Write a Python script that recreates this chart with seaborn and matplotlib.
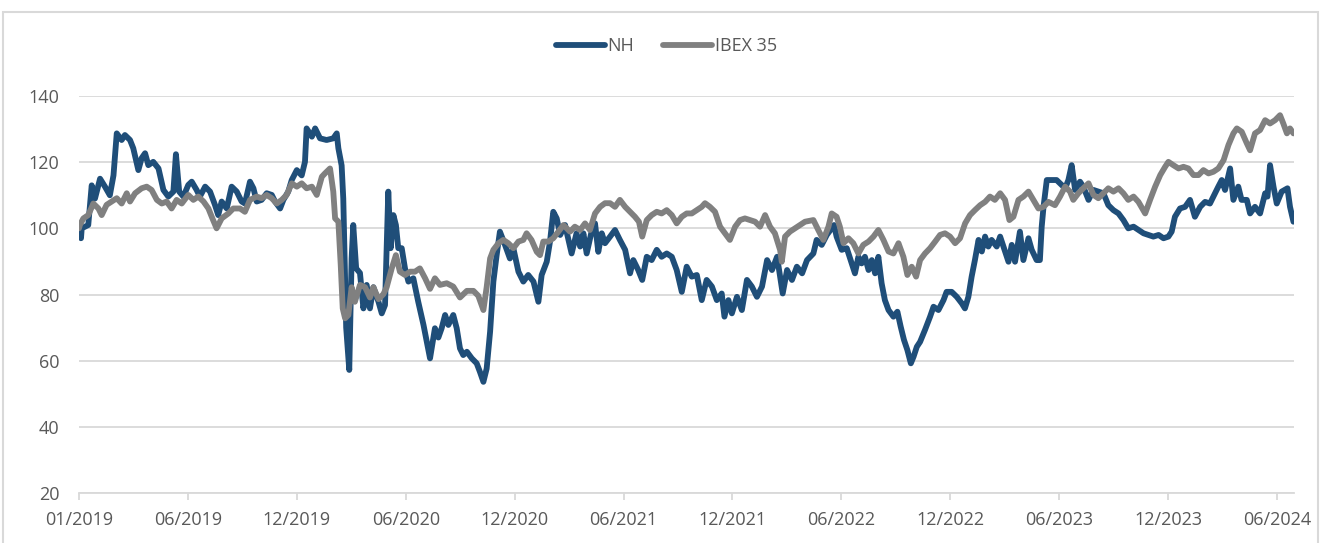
import numpy as np
import pandas as pd
import matplotlib
matplotlib.use("Agg")
import matplotlib.pyplot as plt
import seaborn as sns
from matplotlib.patches import Rectangle

# ---- data (x = months since 01/2019, y = index base 100) ----
nh_month = [0, 0.11, 0.15, 0.51, 0.70, 0.88, 1.16, 1.43, 1.70, 1.90, 2.08, 2.35, 2.53, 2.81, 2.99, 3.27, 3.45, 3.64, 3.82, 4.09,
            4.38, 4.65, 4.92, 5.20, 5.34, 5.52, 5.75, 6.02, 6.21, 6.48, 6.66, 6.95, 7.22, 7.49, 7.67, 7.86, 8.14, 8.41, 8.69, 8.96,
            9.14, 9.42, 9.61, 9.79, 10.06, 10.34, 10.62, 10.80, 11.08, 11.26, 11.53, 11.72, 12.00, 12.27, 12.45, 12.54, 12.83, 13.01, 13.28,
            13.64, 14.01, 14.20, 14.29, 14.47, 14.56, 14.72, 14.89, 15.02, 15.11, 15.27, 15.48, 15.67, 15.85, 16.03, 16.22, 16.50, 16.68,
            16.86, 17.04, 17.17, 17.32, 17.46, 17.59, 17.78, 17.96, 18.15, 18.42, 18.69, 18.98, 19.16, 19.34, 19.61, 19.80, 19.98, 20.17,
            20.35, 20.62, 20.81, 20.99, 21.17, 21.37, 21.64, 21.91, 22.09, 22.28, 22.46, 22.65, 22.83, 23.01, 23.19, 23.47, 23.74, 23.93,
            24.21, 24.48, 24.75, 25.04, 25.31, 25.49, 25.77, 25.95, 26.13, 26.32, 26.51, 26.78,
            27.14, 27.41, 27.61, 27.79, 27.97, 28.24, 28.43, 28.61, 28.80, 28.98, 29.26, 29.53, 29.80, 30.09, 30.36, 30.54, 30.81, 31.03,
            31.28, 31.55, 31.83, 32.10, 32.38, 32.66, 32.93, 33.21, 33.48, 33.76, 34.04, 34.31, 34.58, 34.87, 35.14, 35.41, 35.56, 35.78,
            35.97, 36.25, 36.52, 36.80, 37.07, 37.35, 37.63, 37.91, 38.18, 38.46, 38.77, 39.01, 39.28, 39.55, 39.84, 40.11,
            40.46, 40.64, 40.92, 41.20, 41.47, 41.60, 41.74, 42.02, 42.30, 42.57, 42.75, 42.94, 43.12, 43.30, 43.50, 43.68, 43.86, 44.04,
            44.22, 44.40, 44.60, 44.87, 45.09, 45.27, 45.45, 45.64, 45.83, 45.98, 46.16, 46.34, 46.61, 46.89, 47.08, 47.35, 47.63, 47.80,
            48.08, 48.36, 48.64, 48.81, 49.00, 49.18, 49.36, 49.56, 49.74, 49.92, 50.10, 50.28, 50.56, 50.75, 50.93, 51.21, 51.39, 51.57,
            51.84, 52.03, 52.31, 52.49, 52.76, 52.94, 53.04, 53.14, 53.32, 53.59, 53.86,
            54.33, 54.51, 54.69, 54.88, 55.15, 55.33, 55.62, 55.89, 56.16, 56.44, 56.71, 56.99, 57.27, 57.54, 57.81, 58.10, 58.37, 58.65,
            58.92, 59.19, 59.48, 59.75, 60.02, 60.20, 60.38, 60.66, 60.94, 61.21, 61.48, 61.77, 62.04, 62.31, 62.59, 62.77, 62.96, 63.14,
            63.42, 63.60, 63.87, 64.05, 64.34, 64.52, 64.79, 65.07, 65.35, 65.48, 65.62, 65.81, 65.99, 66.26, 66.58, 66.72, 66.91]
nh_value = [100, 97, 100, 101, 113, 109, 115, 112.6, 110, 116, 128.7, 126.7, 128.2, 126.7, 124.2, 117.6, 121.2, 122.7, 119.1, 120.1,
            118.1, 111.6, 109.6, 111.1, 122.4, 111.1, 109.6, 113.1, 114.1, 111.6, 109.6, 112.6, 111.1, 107.1, 104, 108.1, 106, 112.6, 111.1, 108.1,
            107.5, 114.1, 112.1, 108.1, 108.6, 110.6, 110.1, 108.1, 106, 108.6, 111.1, 114.6, 117.6, 116, 120.1, 130.2, 127.7, 130.2, 127.2,
            126.7, 127.2, 128.7, 124.2, 119, 109, 70, 57.2, 90.9, 101, 87.9, 86.5, 75.8, 82.9, 75.8, 82.2, 77.8, 74.3,
            76.8, 111.1, 94, 104, 101, 94, 94, 87.9, 83.9, 84.9, 77.8, 70.8, 65.7, 60.7, 69.8, 67, 69.8, 73.8,
            70.8, 73.8, 69.8, 63.7, 61.7, 62.7, 60.7, 59.2, 56.6, 53.6, 57.6, 68.8, 83.9, 91.9, 99, 95, 90.9, 94,
            86.9, 83.9, 85.9, 83.9, 77.8, 85.9, 89.9, 96, 105, 103, 98, 101,
            92.4, 98.5, 94.5, 98.5, 92.4, 99, 101.5, 92.9, 98.5, 95.5, 97.5, 99.5, 96.5, 93.5, 86.4, 90.4, 87.4, 84.4,
            91.4, 90.4, 93.5, 91.4, 92.4, 91.4, 87.4, 80.8, 88.4, 85.4, 85.9, 78.3, 84.4, 82.4, 78.3, 80.3, 73.3, 78.3,
            74.3, 79.3, 75.3, 84.4, 82.4, 79.3, 82.4, 90.4, 87.4, 91.4, 80.3, 87.4, 84.4, 88.4, 86.4, 90.4,
            92.4, 96.5, 95, 98, 100, 101, 97.5, 93.5, 94, 89.4, 86.4, 91.4, 89.4, 91.4, 87.4, 90.4, 86.4, 91.4,
            83.4, 78.3, 75.3, 73.3, 74.8, 70.3, 66.3, 63.2, 59.2, 61.2, 64.2, 65.7, 69.3, 73.3, 76.3, 75.3, 78.3, 80.8,
            80.8, 79.3, 77.3, 75.8, 79.3, 85.4, 90.4, 96.5, 93, 97.5, 94.5, 96.5, 94.5, 97.5, 94.5, 89.9, 95, 89.9,
            99, 90.4, 97, 93.5, 90.4, 90.4, 100.5, 106.5, 114.6, 114.6, 114.6,
            112.1, 114.6, 119.1, 111.6, 114.1, 112.6, 108.6, 111.6, 111.1, 110.6, 107, 105.5, 104.5, 102.5, 100, 100.5, 99.5, 98.5,
            98, 97.5, 98, 97, 97.5, 99, 103.5, 106, 106.5, 108.6, 103.5, 106.5, 108, 107.5, 110.6, 112.6, 114.6, 111.6,
            118.1, 108.6, 112.6, 108.6, 108.6, 104.5, 106.5, 104.5, 110.6, 109.6, 119.1, 112.6, 107.5, 111.1, 112.1, 106.5, 102]

ibex_month = [0, 0.05, 0.24, 0.51, 0.79, 1.07, 1.25, 1.52, 1.80, 2.08, 2.35, 2.63, 2.81, 3.09, 3.45, 3.73, 4.00, 4.29, 4.56, 4.83,
              5.10, 5.38, 5.66, 6.02, 6.30, 6.57, 6.86, 7.13, 7.35, 7.58, 7.86, 8.23, 8.50, 8.87, 9.14, 9.42, 9.79, 10.06, 10.34, 10.62,
              10.89, 11.17, 11.44, 11.72, 12.00, 12.27, 12.54, 12.83, 13.10, 13.38, 13.55,
              13.83, 14.01, 14.11, 14.29, 14.42, 14.53, 14.66, 14.84, 15.02, 15.20, 15.48, 15.76, 16.03, 16.22, 16.50, 16.77, 16.95, 17.23,
              17.46, 17.68, 17.96, 18.24, 18.51, 18.78, 19.07, 19.34, 19.61, 19.89, 20.26, 20.62, 20.99, 21.37, 21.73, 22.00, 22.28, 22.46,
              22.65, 22.83, 23.11, 23.38, 23.65, 23.93, 24.21, 24.48, 24.66, 24.93, 25.22, 25.40, 25.58, 25.86, 26.13, 26.41, 26.69,
              27.05, 27.32, 27.61, 27.88, 28.15, 28.43, 28.71, 28.98, 29.26, 29.53, 29.80, 30.09, 30.36, 30.63, 30.85, 31.03, 31.28, 31.55,
              31.83, 32.10, 32.38, 32.66, 32.93, 33.21, 33.48, 33.76, 34.04, 34.31, 34.49, 34.76, 35.04, 35.32, 35.59, 35.86, 36.15, 36.42,
              36.69, 36.97, 37.25, 37.52, 37.80, 38.07, 38.34, 38.63, 38.72, 38.90, 39.17, 39.45, 39.73, 40.00,
              40.46, 40.73, 41.01, 41.29, 41.47, 41.74, 41.92, 42.12, 42.39, 42.66, 42.94, 43.21, 43.50, 43.77, 44.04, 44.32, 44.60, 44.87,
              45.15, 45.42, 45.64, 45.88, 46.12, 46.34, 46.61, 46.89, 47.17, 47.44, 47.71, 47.99, 48.27, 48.54, 48.82, 49.09, 49.36, 49.65,
              49.92, 50.19, 50.46, 50.75, 51.02, 51.26, 51.48, 51.76, 52.03, 52.31, 52.58, 52.86, 53.14, 53.41, 53.77,
              54.05, 54.33, 54.60, 54.78, 55.06, 55.33, 55.62, 55.89, 56.16, 56.44, 56.71, 56.99, 57.27, 57.54, 57.81, 58.10, 58.37, 58.74,
              59.01, 59.29, 59.57, 59.84, 60.02, 60.29, 60.58, 60.85, 61.12, 61.40, 61.68, 61.95, 62.23, 62.50, 62.77, 63.06, 63.33, 63.60,
              63.79, 64.06, 64.34, 64.52, 64.79, 65.07, 65.35, 65.62, 65.90, 66.17, 66.35, 66.55, 66.72, 66.91]
ibex_value = [100, 101, 103, 104, 107.5, 106, 104, 107.1, 108.1, 109.1, 107.5, 110.6, 108.1, 110.6, 112.1, 112.6, 111.6, 108.6, 107.5, 108.1,
              106, 108.6, 107.5, 110.1, 108.6, 109.6, 108.1, 106, 103, 100, 103, 104.5, 106, 106, 105, 108.6, 109.6, 109.1, 110.1, 109.1,
              107.5, 108.6, 110.1, 113.6, 112.6, 113.6, 112.1, 112.6, 110.1, 115.6, 116.6,
              118.1, 111.1, 103, 102, 88.9, 75.8, 72.8, 73.8, 82.2, 77.8, 82.9, 82.2, 79.1, 82.2, 78.6, 80.1, 82.2, 87.9,
              91.9, 86.9, 85.9, 86.9, 86.9, 87.9, 84.9, 81.7, 84.9, 82.9, 83.4, 82.4, 79.1, 81.1, 81.1, 79.6, 75.3, 82.2,
              90.9, 93.5, 95.5, 96.5, 95.5, 94, 96, 96.5, 98.5, 96.5, 92.9, 91.9, 96, 96, 97, 99, 101,
              99, 100.5, 99.5, 101.5, 99.5, 104.5, 106.5, 107.6, 107.6, 106.5, 108.6, 106.5, 105, 103.5, 102, 97.5, 102.5, 104,
              105, 104.5, 105.5, 104, 101.5, 103.5, 104.5, 104.5, 105.5, 106.5, 107.6, 106.5, 105, 100.5, 98.5, 96.5, 100.5, 102.5,
              103, 102.5, 102, 100.5, 104, 100.5, 98.5, 93.4, 89.9, 97.5, 99, 100, 101, 102,
              102.5, 99.5, 96.5, 100.5, 104.5, 103.5, 100.5, 95.5, 97, 95.5, 92.4, 95, 96, 97.5, 99.5, 96.5, 93, 92.4,
              95.5, 91.4, 85.9, 88.4, 85.4, 90.4, 92.4, 94, 96, 98, 98.5, 97.5, 95.5, 97, 101.5, 104, 105.5, 107,
              108, 109.6, 108.6, 110.6, 108.6, 102.5, 103.5, 108.6, 109.6, 111.1, 108.6, 106, 106.5, 108, 107,
              109.6, 112.6, 111.1, 108.6, 110.6, 112.1, 113.6, 110.1, 109.1, 110.6, 112.1, 111.1, 112.1, 110.6, 108.6, 109.6, 108, 104.5,
              108.6, 112.6, 116.1, 118.6, 120.1, 119.1, 118.1, 118.6, 118.1, 116.1, 116.1, 117.6, 116.6, 117.1, 118.1, 120.6, 125.2, 128.7,
              130.2, 129.2, 125.7, 123.6, 128.7, 129.7, 132.7, 131.7, 132.7, 134.2, 131.7, 128.7, 130.2, 128.7]

series_names = ["NH", "IBEX 35"]
tick_months = [0, 6, 12, 18, 24, 30, 36, 42, 48, 54, 60, 66]
tick_labels = ["01/2019", "06/2019", "12/2019", "06/2020", "12/2020", "06/2021",
               "12/2021", "06/2022", "12/2022", "06/2023", "12/2023", "06/2024"]
y_ticks = [20, 40, 60, 80, 100, 120, 140]

assert len(nh_month) == len(nh_value), (len(nh_month), len(nh_value))
assert len(ibex_month) == len(ibex_value), (len(ibex_month), len(ibex_value))

# ---- style ----
sns.set_style("white")
plt.rcParams['font.family'] = ['Open Sans', 'DejaVu Sans']
TXT = '#595959'
GRID = '#d9d9d9'

W, H = 1320, 543
fig = plt.figure(figsize=(W / 100, H / 100), dpi=100)
ax = fig.add_axes([79 / W, 1 - 493 / H, (1294 - 79) / W, (493 - 96) / H])

df = pd.concat([
    pd.DataFrame({"month": nh_month, "value": nh_value, "series": series_names[0]}),
    pd.DataFrame({"month": ibex_month, "value": ibex_value, "series": series_names[1]}),
], ignore_index=True)

sns.lineplot(data=df, x="month", y="value", hue="series", hue_order=series_names,
             palette={"NH": "#1f4e79", "IBEX 35": "#808080"},
             linewidth=4.2, estimator=None, sort=False, ax=ax)
for ln in ax.get_lines():
    ln.set_solid_capstyle('round')
    ln.set_solid_joinstyle('round')

ax.set_xlim(0, 66.94)
ax.set_ylim(20, 140)
ax.set_xticks(tick_months)
ax.set_xticklabels(tick_labels)
ax.set_yticks(y_ticks)
ax.set_xlabel("")
ax.set_ylabel("")

ax.set_axisbelow(True)
ax.yaxis.grid(True, color=GRID, linewidth=1.3)
ax.xaxis.grid(False)
for s in ["left", "right", "top"]:
    ax.spines[s].set_visible(False)
ax.spines["bottom"].set_color(GRID)
ax.spines["bottom"].set_linewidth(1.3)

ax.tick_params(axis='x', colors=GRID, length=5, width=1.3, pad=8, labelcolor=TXT, labelsize=13, direction='out', bottom=True)
ax.tick_params(axis='y', length=0, pad=14, labelcolor=TXT, labelsize=13)

handles, labels = ax.get_legend_handles_labels()
ax.legend(handles, labels, loc='center', bbox_to_anchor=(0.505, 1 - 46 / H),
          bbox_transform=fig.transFigure, ncol=2, frameon=False,
          handlelength=2.7, handletextpad=0.15, columnspacing=1.6,
          fontsize=13, labelcolor=TXT)

fig.patches.append(Rectangle((3 / W, -0.02), (1318 - 3) / W, (543 - 12) / H + 0.02,
                             transform=fig.transFigure, fill=False,
                             edgecolor=GRID, linewidth=1.5))

fig.savefig("out.png", dpi=100)
